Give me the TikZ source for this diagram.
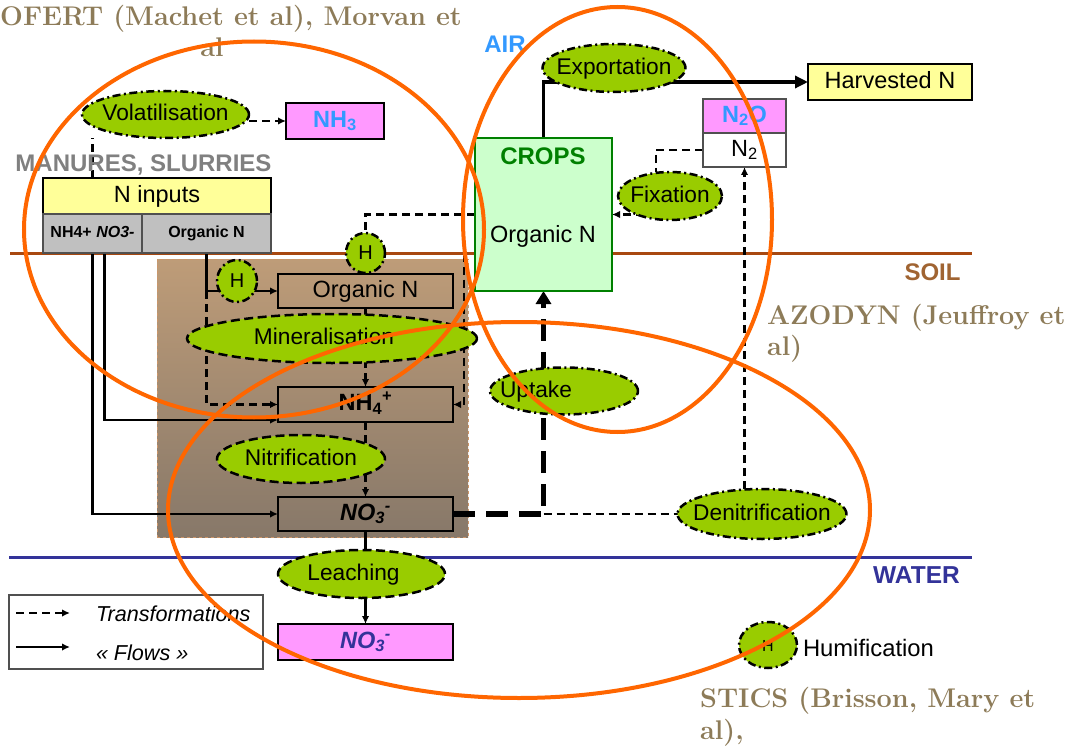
\documentclass[tikz,border=0pt]{standalone}
\usepackage{fontspec}
\setsansfont{Liberation Sans}
\usetikzlibrary{shapes.geometric,arrows.meta,calc}
\pgfdeclarelayer{back}
\pgfdeclarelayer{conn}
\pgfsetlayers{back,conn,main}
\definecolor{ttl}{RGB}{141,123,88}
\definecolor{pgreen}{RGB}{153,204,0}
\definecolor{mag}{RGB}{255,153,255}
\definecolor{lyel}{RGB}{255,255,153}
\definecolor{lgray}{RGB}{192,192,192}
\definecolor{dgray}{RGB}{80,80,80}
\definecolor{cropf}{RGB}{204,255,204}
\definecolor{cropg}{RGB}{0,128,0}
\definecolor{airblue}{RGB}{51,153,255}
\definecolor{soilc}{RGB}{168,72,16}
\definecolor{soilt}{RGB}{160,100,50}
\definecolor{wblue}{RGB}{51,51,153}
\definecolor{orng}{RGB}{255,102,0}
\definecolor{mgray}{RGB}{128,128,128}
\definecolor{soilA}{RGB}{190,156,120}
\definecolor{soilB}{RGB}{135,120,105}
\definecolor{soilE}{RGB}{205,150,105}
\newcommand\cbx[1]{\makebox[0pt][c]{#1}}
\newcommand\fsz[1]{\fontsize{#1}{#1}\selectfont}
\begin{document}
\begin{tikzpicture}[x=1pt,y=-1pt,
  txt/.style={font=\sffamily\fsz{23.5}, inner sep=0pt, outer sep=0pt, text height=17pt, text depth=4.8pt},
  etxt/.style={font=\sffamily\fsz{22.7}},
  bld/.style={txt, font=\sffamily\bfseries\fsz{24}},
  rbox/.style={txt, rectangle, draw, line width=1.3pt},
  proc/.style={txt, etxt, ellipse, draw, fill=pgreen, line width=2.5pt, dash pattern=on 8pt off 3.5pt on 2pt off 3.5pt},
  procd/.style={txt, etxt, ellipse, draw, fill=pgreen, line width=2.5pt, dash pattern=on 9pt off 4.5pt},
  hnode/.style={proc, font=\sffamily\fsz{20}},
  trans/.style={line width=2.5pt, dash pattern=on 8pt off 5pt, -{Latex[length=8pt,width=7.5pt]}},
  transl/.style={line width=2.5pt, dash pattern=on 8pt off 5pt},
  flow/.style={line width=2.3pt, -{Latex[length=8pt,width=7.5pt]}},
  bigflow/.style={line width=3.5pt, -{Triangle[length=13pt,width=12pt]}},
  thickdash/.style={line width=5.5pt, dash pattern=on 22pt off 11pt, -{Triangle[length=13pt,width=15pt]}},
  zone/.style={draw=orng, line width=4pt},
  title/.style={font=\bfseries\fsz{27}, text=ttl, inner sep=0pt, anchor=base west}]
\useasboundingbox (0,0) rectangle (1074,749);

% background: soil zone and horizon lines
\begin{pgfonlayer}{back}
\node[rectangle, top color=soilA, bottom color=soilB, draw=soilE, dashed, line width=0.6pt,
      minimum width=311pt, minimum height=278pt, inner sep=0pt] (soilzone) at (312.5,398) {};
\coordinate (sl1) at (10,253); \coordinate (sl2) at (972,253);
\coordinate (wl1) at (9,557);  \coordinate (wl2) at (972,557);
\draw[line width=3pt, draw=soilc] (sl1) -- (sl2);
\draw[line width=3pt, draw=wblue] (wl1) -- (wl2);
\end{pgfonlayer}

% titles
\node[title] (t1) at (0,26) {OFERT (Machet et al), Morvan et};
\node[title, anchor=base] (t2) at (212,57) {al};
\node[title] (t3) at (767,324) {AZODYN (Jeuffroy et};
\node[title] (t4) at (767,355) {al)};
\node[title] (t5) at (700,707) {STICS (Brisson, Mary et};
\node[title] (t6) at (700,739) {al),};

% zone labels
\node[bld, text=airblue] (air) at (505,46) {AIR};
\node[bld, text=soilt] (soil) at (932.5,274) {SOIL};
\node[bld, text=wblue, font=\sffamily\bfseries\fsz{24.5}] (water) at (916.5,577) {WATER};
\node[bld, text=mgray] (manu) at (143.5,165) {MANURES, SLURRIES};

% boxes
\node[rbox, fill=lyel, line width=2.8pt, minimum width=228pt, minimum height=36pt] (ninp) at (157,196) {N inputs};
\node[rbox, fill=lgray, draw=dgray, line width=1.3pt, minimum width=99pt, minimum height=39pt,
      font=\sffamily\bfseries\fsz{16}, text height=11.5pt, text depth=3.3pt] (sub1) at (92.5,233.5) {NH4+ \textit{NO3-}};
\node[rbox, fill=lgray, draw=dgray, line width=1.3pt, minimum width=129pt, minimum height=39pt,
      font=\sffamily\bfseries\fsz{16}, text height=11.5pt, text depth=3.3pt] (sub2) at (206.5,233.5) {Organic N};
\node[rbox, fill=mag, minimum width=98pt, minimum height=36pt, font=\sffamily\bfseries\fsz{23.5}, text=airblue] (nh3) at (335,121) {NH\textsubscript{3}};
\node[rbox, fill=lyel, minimum width=164pt, minimum height=36pt] (harv) at (890,82) {Harvested N};
\node[rbox, fill=mag, draw=dgray, minimum width=83pt, minimum height=34pt, font=\sffamily\bfseries\fsz{23.5}, text=airblue] (n2o) at (744.5,116) {N\textsubscript{2}O};
\node[rbox, fill=white, draw=dgray, minimum width=83pt, minimum height=34pt] (n2) at (744.5,150) {N\textsubscript{2}};
\node[rbox, fill=cropf, draw=cropg, line width=2.2pt, minimum width=137pt, minimum height=153pt] (crops) at (543.5,214.5) {};
\node[bld, text=cropg] (cropst) at (543,158) {CROPS};
\node[txt] (cropsn) at (543,236) {Organic N};

\node[rbox, minimum width=175pt, minimum height=34pt] (orgN) at (365.5,291) {Organic N};
\node[rbox, minimum width=175pt, minimum height=35pt, font=\sffamily\bfseries\fsz{23.5}] (nh4) at (365.5,404.5) {NH\textsubscript{4}\textsuperscript{+}};
\node[rbox, minimum width=175pt, minimum height=34pt, font=\sffamily\bfseries\itshape\fsz{23.5}] (no3s) at (365.5,514) {NO\textsubscript{3}\textsuperscript{-}};
\node[rbox, fill=mag, minimum width=175pt, minimum height=36pt, font=\sffamily\bfseries\itshape\fsz{23.5}, text=wblue] (no3w) at (365.5,642) {NO\textsubscript{3}\textsuperscript{-}};

% processes
\node[proc, minimum width=167pt, minimum height=47pt] (vol) at (165.5,114.5) {\cbx{Volatilisation}};
\node[proc, minimum width=143pt, minimum height=48pt] (exp) at (614,68) {\cbx{Exportation}};
\node[proc, minimum width=104pt, minimum height=48pt] (fix) at (670,196) {\cbx{Fixation}};
\node[proc, minimum width=148pt, minimum height=47pt] (upt) at (564,391) {\cbx{\hspace*{-56pt}Uptake}};
\node[proc, minimum width=169pt, minimum height=50pt] (den) at (762,514) {\cbx{Denitrification}};
\node[procd, minimum width=290pt, minimum height=49pt] (mine) at (332,338.5) {\cbx{\hspace*{-16pt}Mineralisation}};
\node[procd, minimum width=168pt, minimum height=48pt] (nitr) at (301,459) {\cbx{Nitrification}};
\node[procd, minimum width=167pt, minimum height=48pt] (leach) at (361.5,574) {\cbx{\hspace*{-16pt}Leaching}};
\node[hnode, minimum width=39pt, minimum height=40pt] (H1) at (365.5,253) {\cbx{H}};
\node[hnode, minimum width=40pt, minimum height=42pt] (H2) at (237,281) {\cbx{H}};
\node[hnode, minimum width=58pt, minimum height=46pt, font=\sffamily\fsz{16}] (H3) at (768,645) {\cbx{H}};
\node[txt, anchor=west, font=\sffamily\fsz{23.8}] (hum) at (803,650) {Humification};

% legend
\node[rbox, fill=white, draw=dgray, line width=1.3pt, minimum width=254pt, minimum height=74pt] (leg) at (136,632) {};
\node[txt, anchor=west, font=\sffamily\itshape\fsz{21.6}] (lt1) at (96,615) {Transformations};
\node[txt, anchor=west, font=\sffamily\itshape\fsz{21.6}] (lt2) at (96,654) {« Flows »};
\coordinate (la1) at (16,613); \coordinate (la2) at (70,613);
\coordinate (lb1) at (16,647); \coordinate (lb2) at (70,647);
\draw[trans] (la1) -- (la2);
\draw[flow] (lb1) -- (lb2);

% connectors
\begin{pgfonlayer}{conn}
\draw[trans] (vol.east |- nh3.west) -- (nh3.west);
\draw[transl] (ninp.north -| sub1.north) -- (vol.south -| sub1.north);
\draw[flow] (sub1.south) |- (no3s.west);
\draw[flow] ($(sub1.south)+(12,0)$) |- ($(nh4.south west)+(0,-2)$);
\draw[flow] (sub2.south) |- (orgN.west);
\draw[trans] (sub2.south |- orgN.west) |- (nh4.west);
\draw[trans] (orgN.south) -- (nh4.north);
\draw[trans] (nh4.south) -- (no3s.north);
\draw[flow] (no3s.south) -- (no3w.north);
\draw[transl] (crops.west) -| (H1.north);
\draw[trans] ($(crops.west)+(-11,0)$) |- (nh4.east);
\draw[bigflow] (crops.north) |- (harv.west);
\draw[transl] (n2.west) -| ($(fix.north)+(-14,0)$);
\draw[trans] (fix.center |- crops.east) -- (crops.east);
\draw[trans] (den.north -| n2.south) -- (n2.south);
\draw[transl] (no3s.east -| crops.south) -- (den.west);
\draw[thickdash] (no3s.east) -| (crops.south);
\end{pgfonlayer}

% model zones
\draw[zone] (254,229.5) ellipse [x radius=230pt, y radius=188pt];
\draw[zone] (617.5,219.5) ellipse [x radius=154.5pt, y radius=212.5pt];
\draw[zone] (519,510) ellipse [x radius=351pt, y radius=188pt];
\end{tikzpicture}
\end{document}
